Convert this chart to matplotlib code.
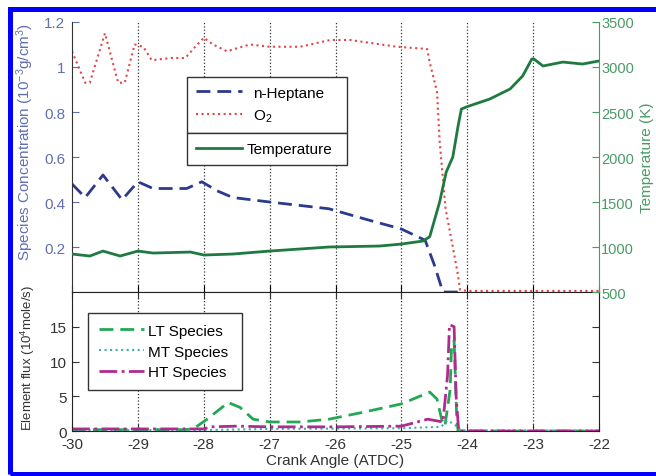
import matplotlib
matplotlib.use('Agg')
import matplotlib.pyplot as plt
from matplotlib.patches import Rectangle

plt.rcParams['font.family'] = ['Liberation Sans', 'DejaVu Sans']
plt.rcParams['font.size'] = 11
plt.rcParams['axes.unicode_minus'] = False
plt.rcParams['mathtext.fontset'] = 'custom'
plt.rcParams['mathtext.rm'] = 'Liberation Sans'
plt.rcParams['mathtext.it'] = 'Liberation Sans:italic'

# ---- upper panel: species concentration and temperature ----
ca_hep = [-30, -29.8, -29.53, -29.24, -29.0, -28.77, -28.26, -28.03, -27.8, -27.56,
          -27.0, -26.1, -25.5, -25.0, -24.64, -24.5, -24.37, -24.1]
hep = [0.48, 0.42, 0.52, 0.41, 0.49, 0.46, 0.46, 0.49, 0.45, 0.42,
       0.40, 0.37, 0.32, 0.28, 0.23, 0.12, 0.0, 0.0]

ca_o2 = [-30, -29.9, -29.8, -29.73, -29.5, -29.3, -29.2, -29.05, -28.92, -28.79,
         -28.5, -28.28, -28.16, -28.0, -27.86, -27.65, -27.3, -27.0, -26.54, -26.08,
         -25.78, -25.07, -24.61, -24.57, -24.46, -24.42, -24.33, -24.22, -24.15, -24.11,
         -24.0, -22]
o2 = [1.07, 1.0, 0.93, 0.93, 1.15, 0.93, 0.93, 1.10, 1.09, 1.03,
      1.04, 1.04, 1.08, 1.13, 1.10, 1.07, 1.10, 1.09, 1.09, 1.12,
      1.12, 1.09, 1.08, 1.02, 0.89, 0.67, 0.37, 0.20, 0.09, 0.01,
      0.005, 0.005]

ca_T = [-30, -29.73, -29.53, -29.27, -29.0, -28.77, -28.2, -28.0, -27.56, -27.0,
        -26.1, -25.33, -25.0, -24.67, -24.57, -24.42, -24.32, -24.22, -24.14, -24.09,
        -24.0, -23.66, -23.35, -23.16, -23.02, -22.99, -22.85, -22.55, -22.25, -22.0]
temp = [922, 900, 955, 900, 955, 933, 944, 911, 922, 955,
        1000, 1011, 1033, 1067, 1115, 1500, 1833, 2000, 2344, 2533,
        2560, 2644, 2756, 2900, 3089, 3089, 3011, 3055, 3033, 3067]

# ---- lower panel: element flux ----
ca_lt = [-30, -28.3, -28.16, -27.95, -27.63, -27.45, -27.25, -27.0, -26.54, -26.1,
         -25.58, -25.0, -24.57, -24.46, -24.39, -24.34, -24.26, -24.24, -24.2, -24.16,
         -24.14, -22]
lt = [0.2, 0.2, 0.3, 1.7, 4.1, 3.4, 1.7, 1.3, 1.3, 1.7,
      2.7, 3.9, 5.6, 4.6, 1.7, 0.7, 6.0, 12.1, 13.0, 1.7,
      0.0, 0.0]

ca_mt = [-30, -28, -27, -25, -24.4, -24.3, -24.2, -24.1, -22]
mt = [0.1, 0.15, 0.3, 0.4, 0.6, 1.5, 1.0, 0.1, 0.05]

ca_ht = [-30, -28.0, -27.9, -27.5, -27.0, -26.0, -25.0, -24.6, -24.37, -24.3,
         -24.27, -24.2, -24.17, -24.13, -22]
ht = [0.3, 0.3, 0.6, 0.7, 0.6, 0.6, 0.7, 1.7, 1.3, 8.0,
      15.3, 15.0, 5.0, 0.0, 0.0]

xticks = [-30, -29, -28, -27, -26, -25, -24, -23, -22]

c_hep = '#2b3a8c'
c_o2 = '#e04848'
c_T = '#1e7a40'
c_left = '#6070b0'
c_right = '#4a9a66'
c_lt = '#22a855'
c_mt = '#40b0a8'
c_ht = '#b02a90'

fig = plt.figure(figsize=(6.56, 4.77), dpi=100)
fig.patches.append(Rectangle((0.016, 0.004), 1.0, 0.974, transform=fig.transFigure,
                             fill=False, edgecolor='#0000ff', linewidth=3.6))

left, width = 0.1098, 0.8034
ax1 = fig.add_axes([left, 0.3857, width, 0.5661])
ax3 = fig.add_axes([left, 0.0943, width, 0.2914])

# upper
ax1.plot(ca_hep, hep, '--', color=c_hep, lw=2, dashes=(5, 2.5), label='n-Heptane')
ax1.plot(ca_o2, o2, ':', color=c_o2, lw=1.5, label='O$_2$')
ax1.set_xlim(-30, -22)
ax1.set_ylim(0, 1.2)
ax1.set_yticks([0.2, 0.4, 0.6, 0.8, 1.0, 1.2])
ax1.set_yticklabels(['0.2', '0.4', '0.6', '0.8', '1', '1.2'])
ax1.set_xticks(xticks)
ax1.tick_params(axis='x', direction='in', labelbottom=False, length=5)
ax1.tick_params(axis='y', direction='in', colors=c_left, labelcolor=c_left, length=5, pad=5)
ax1.spines['top'].set_visible(False)
ax1.spines['right'].set_visible(False)
ax1.spines['left'].set_color('#333333')
ax1.spines['bottom'].set_color('#222222')
ax1.set_ylabel('Species Concentration (10$^{-3}$g/cm$^3$)', color=c_left, fontsize=11)
ax1.yaxis.set_label_coords(-0.068, 0.56)
for x in xticks[1:-1]:
    ax1.axvline(x, color='#333333', ls=':', lw=0.9, zorder=0)

ax2 = ax1.twinx()
ax2.plot(ca_T, temp, '-', color=c_T, lw=2, label='Temperature')
ax2.set_ylim(500, 3500)
ax2.set_yticks([500, 1000, 1500, 2000, 2500, 3000, 3500])
ax2.tick_params(axis='y', direction='in', colors=c_right, labelcolor=c_right, length=5,
                pad=1.5, labelsize=10.5)
ax2.spines['top'].set_visible(False)
ax2.spines['left'].set_visible(False)
ax2.spines['bottom'].set_visible(False)
ax2.spines['right'].set_color(c_right)
ax2.set_ylabel('Temperature (K)', color=c_right, fontsize=11)
ax2.yaxis.set_label_coords(1.077, 0.50)

h1, l1 = ax1.get_legend_handles_labels()
h2, l2 = ax2.get_legend_handles_labels()
leg_kw = dict(mode='expand', fancybox=False, framealpha=1, edgecolor='#333333',
              handlelength=3.0, borderaxespad=0, fontsize=11)
leg1 = ax2.legend(h1, l1, loc='lower left', bbox_to_anchor=(0.218, 0.589, 0.304, 0.2),
                  labelspacing=0.5, borderpad=0.6, handletextpad=0.7, **leg_kw)
leg1.get_frame().set_linewidth(1.0)
ax2.add_artist(leg1)
leg2 = ax2.legend(h2, l2, loc='upper left', bbox_to_anchor=(0.218, 0.289, 0.304, 0.3),
                  borderpad=0.6, handletextpad=0.3, **leg_kw)
leg2.get_frame().set_linewidth(1.0)

# lower
ax3.plot(ca_lt, lt, '--', color=c_lt, lw=2, dashes=(5, 2.5), label='LT Species')
ax3.plot(ca_mt, mt, ':', color=c_mt, lw=1.5, label='MT Species')
ax3.plot(ca_ht, ht, '-.', color=c_ht, lw=2, label='HT Species')
ax3.set_xlim(-30, -22)
ax3.set_ylim(0, 20)
ax3.set_yticks([0, 5, 10, 15])
ax3.set_xticks(xticks)
ax3.tick_params(direction='in', top=True, right=True, length=5, colors='#333333',
                labelcolor='#333333', pad=4)
for s in ax3.spines.values():
    s.set_color('#222222')
for x in xticks[1:-1]:
    ax3.axvline(x, color='#333333', ls=':', lw=0.9, zorder=0)
ax3.set_ylabel('Element flux (10$^4$mole/s)', color='#333333', fontsize=9.5)
ax3.yaxis.set_label_coords(-0.066, 0.53)
ax3.set_xlabel('Crank Angle (ATDC)', color='#333333', fontsize=11, labelpad=2)
leg3 = ax3.legend(loc='upper left', bbox_to_anchor=(0.030, 0.309, 0.292, 0.540),
                  mode='expand', fancybox=False, framealpha=1, edgecolor='#333333',
                  handlelength=3.0, handletextpad=0.25, borderaxespad=0,
                  labelspacing=0.45, borderpad=0.7, fontsize=11)
leg3.get_frame().set_linewidth(1.0)

fig.savefig('out.png', dpi=100)
